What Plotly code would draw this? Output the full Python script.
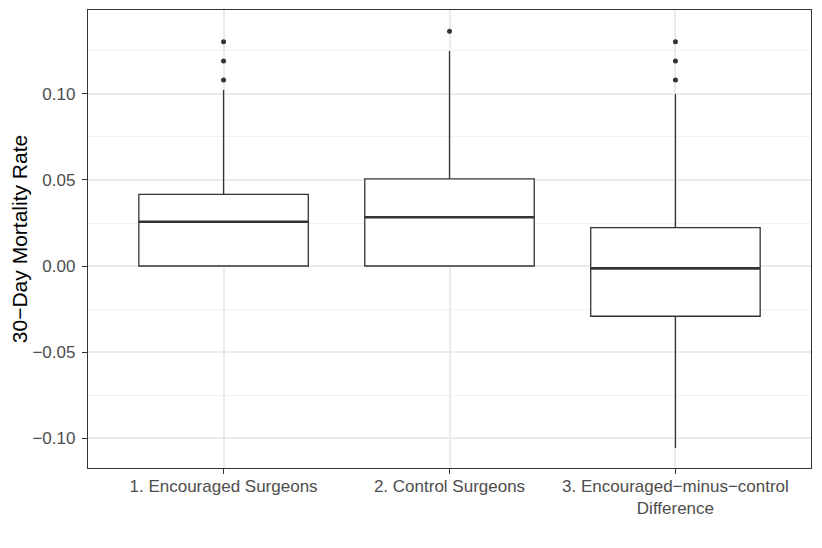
import plotly.graph_objects as go

# boxplot stats
groups = ["1. Encouraged Surgeons", "2. Control Surgeons",
          "3. Encouraged\u2212minus\u2212control<br>Difference"]
pos = [1, 2, 3]
q1 = [0.0, 0.0, -0.0292]
med = [0.0257, 0.0283, -0.0014]
q3 = [0.0416, 0.0506, 0.0223]
lo = [0.0, 0.0, -0.1058]
hi = [0.1023, 0.1250, 0.1000]
outliers = [[0.1081, 0.1192, 0.1304], [0.1364], [0.1081, 0.1192, 0.1304]]

box_w = 0.75
dark = "#333333"
font = "Liberation Sans, Arial, Helvetica, sans-serif"

fig = go.Figure()

fig.add_trace(go.Box(
    x=pos, q1=q1, median=med, q3=q3, lowerfence=lo, upperfence=hi,
    width=box_w, whiskerwidth=0, fillcolor="white",
    line=dict(color=dark, width=1.3),
    boxpoints=False, hoverinfo="skip", showlegend=False,
))

# ggplot draws the median thicker than the box outline
mx, my = [], []
for p, m in zip(pos, med):
    mx += [p - box_w / 2, p + box_w / 2, None]
    my += [m, m, None]
fig.add_trace(go.Scatter(x=mx, y=my, mode="lines",
                         line=dict(color=dark, width=2.6),
                         hoverinfo="skip", showlegend=False))

ox, oy = [], []
for p, vals in zip(pos, outliers):
    ox += [p] * len(vals)
    oy += vals
fig.add_trace(go.Scatter(x=ox, y=oy, mode="markers",
                         marker=dict(color=dark, size=5),
                         showlegend=False))

# the page body adds an 8px offset, so the figure is a bit smaller
fig.update_layout(
    width=814, height=540,
    margin=dict(l=80, r=11, t=2, b=80),
    paper_bgcolor="white", plot_bgcolor="white",
    font=dict(family=font, color="#4D4D4D", size=17),
)

fig.update_xaxes(
    range=[0.4, 3.6], tickvals=pos, ticktext=groups,
    showgrid=True, gridcolor="#EBEBEB", gridwidth=1.6,
    showline=True, mirror=True, linecolor=dark, linewidth=1.3,
    ticks="outside", ticklen=5, tickcolor=dark, tickwidth=1.3,
    ticklabelstandoff=-3,
    zeroline=False, automargin=False,
)

fig.update_yaxes(
    range=[-0.1174, 0.1488], dtick=0.05, tick0=0, tickformat=".2f",
    showgrid=True, gridcolor="#EBEBEB", gridwidth=1.6,
    minor=dict(dtick=0.05, tick0=0.025, showgrid=True,
               gridcolor="#F2F2F2", gridwidth=0.8),
    showline=True, mirror=True, linecolor=dark, linewidth=1.3,
    ticks="outside", ticklen=5, tickcolor=dark, tickwidth=1.3,
    ticklabelstandoff=3,
    zeroline=False, automargin=False,
    title=dict(text="30\u2212Day Mortality Rate", standoff=8,
               font=dict(size=21, color="black", family=font)),
)

fig.write_html("out.html")
